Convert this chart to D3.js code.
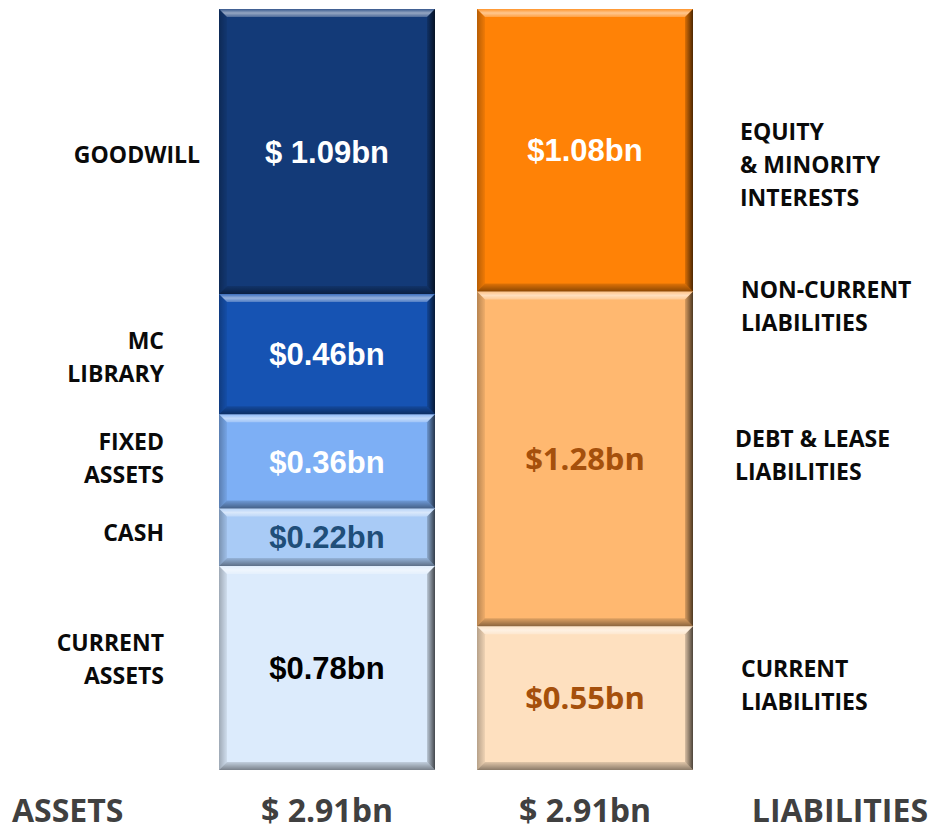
<!DOCTYPE html>
<meta charset="utf-8">
<head>
    <script src="https://d3js.org/d3.v7.min.js"></script>
    <style>
        body { margin: 0; background: #fff; }
        svg { display: block; }
        .cat { font-family: 'Open Sans', sans-serif; font-weight: 700; font-size: 23px; fill: #0a0a0a; }
        .val { font-family: 'Liberation Sans', Arial, sans-serif; font-weight: 700; font-size: 31px; }
        .foot { font-family: 'Open Sans', sans-serif; font-weight: 700; font-size: 32px; fill: #404040; }
    </style>
</head>
<body>
    <div id="chart"></div>
    <script>

    // data, stacked from the bottom up
    var sides = ["ASSETS", "LIABILITIES"]
    var totals = ["$ 2.91bn", "$ 2.91bn"]

    var assetCategories = [["CURRENT", "ASSETS"], ["CASH"], ["FIXED", "ASSETS"], ["MC", "LIBRARY"], ["GOODWILL"]]
    var assetValues = [0.78, 0.22, 0.36, 0.46, 1.09]
    var assetLabels = ["$0.78bn", "$0.22bn", "$0.36bn", "$0.46bn", "$ 1.09bn"]

    var liabCategories = [["CURRENT", "LIABILITIES"], ["DEBT & LEASE", "LIABILITIES"], ["EQUITY", "& MINORITY", "INTERESTS"]]
    var liabValues = [0.55, 1.28, 1.08]
    var liabLabels = ["$0.55bn", "$1.28bn", "$1.08bn"]
    var liabGroupLabel = ["NON-CURRENT", "LIABILITIES"]

    // styles
    var assetFill = ["#dcebfc", "#a9cbf6", "#7dafF5", "#1653b3", "#133a78"]
    var assetText = ["#000000", "#1f4e79", "#ffffff", "#ffffff", "#ffffff"]
    var liabFill = ["#fee0bf", "#ffb870", "#ff8206"]
    var liabText = ["#a5500c", "#a5500c", "#ffffff"]

    var width = 934, height = 831
    var bev = 8

    var svg = d3.select("#chart").append("svg")
        .attr("width", width).attr("height", height)

    var x = d3.scaleBand().domain(sides).range([219, 693]).paddingInner(0.1628).paddingOuter(0)
    var y = d3.scaleLinear().domain([0, 2.91]).range([770, 9])

    // bevel gradients
    var defs = svg.append("defs")
    function grad(id, x2, y2, stops) {
        var g = defs.append("linearGradient").attr("id", id)
            .attr("x1", 0).attr("y1", 0).attr("x2", x2).attr("y2", y2)
        stops.forEach(function(s) {
            g.append("stop").attr("offset", s[0]).attr("stop-color", s[1]).attr("stop-opacity", s[2])
        })
    }
    grad("gTop", 0, 1, [[0, "#fff", 0.15], [0.5, "#fff", 0.55], [1, "#fff", 0.25]])
    grad("gBot", 0, 1, [[0, "#000", 0.12], [1, "#000", 0.45]])
    grad("gRight", 1, 0, [[0, "#000", 0.15], [1, "#000", 0.7]])
    grad("gLeft", 1, 0, [[0, "#000", 0.28], [1, "#000", 0.06]])

    function segments(values) {
        var ends = d3.cumsum(values)
        return values.map(function(v, i) { return { y0: ends[i] - v, y1: ends[i] } })
    }

    function drawBar(side, values, fills) {
        var x0 = x(side), x1 = x(side) + x.bandwidth()
        var segs = segments(values)
        var g = svg.append("g")
        segs.forEach(function(s, i) {
            var top = y(s.y1), bot = y(s.y0)
            g.append("rect").attr("x", x0).attr("y", top)
                .attr("width", x1 - x0).attr("height", bot - top).attr("fill", fills[i])
            var polys = [
                ["gTop", [[x0, top], [x1, top], [x1 - bev, top + bev], [x0 + bev, top + bev]]],
                ["gBot", [[x0 + bev, bot - bev], [x1 - bev, bot - bev], [x1, bot], [x0, bot]]],
                ["gLeft", [[x0, top], [x0 + bev, top + bev], [x0 + bev, bot - bev], [x0, bot]]],
                ["gRight", [[x1 - bev, top + bev], [x1, top], [x1, bot], [x1 - bev, bot - bev]]]
            ]
            polys.forEach(function(p) {
                g.append("polygon").attr("points", p[1].join(" ")).attr("fill", "url(#" + p[0] + ")")
            })
        })
        return segs
    }

    var aSegs = drawBar("ASSETS", assetValues, assetFill)
    var lSegs = drawBar("LIABILITIES", liabValues, liabFill)

    function valueLabels(side, segs, labels, colors, fontFam) {
        var cx = x(side) + x.bandwidth() / 2
        svg.selectAll(null).data(segs).enter().append("text")
            .attr("class", "val")
            .attr("x", cx)
            .attr("y", function(d) { return (y(d.y0) + y(d.y1)) / 2 + 3 })
            .attr("text-anchor", "middle")
            .attr("dominant-baseline", "middle")
            .attr("fill", function(d, i) { return colors[i] })
            .style("font-family", function(d, i) { return fontFam ? fontFam[i] : null })
            .text(function(d, i) { return labels[i] })
    }
    valueLabels("ASSETS", aSegs, assetLabels, assetText)
    valueLabels("LIABILITIES", lSegs, liabLabels, liabText, ["'Open Sans', sans-serif", "'Open Sans', sans-serif", null])

    // multi-line category labels
    function catLabel(lines, px, cy, anchor) {
        var lh = 33
        var t = svg.append("text").attr("class", "cat").attr("text-anchor", anchor)
        lines.forEach(function(line, i) {
            t.append("tspan").attr("x", px)
                .attr("y", cy + (i - (lines.length - 1) / 2) * lh)
                .attr("dominant-baseline", "middle")
                .text(line)
        })
    }
    var assetLabelX = [164, 164, 164, 164, 200]
    var assetLabelDy = [-7, -2, -1, 5, 5]
    aSegs.forEach(function(s, i) {
        catLabel(assetCategories[i], assetLabelX[i], (y(s.y0) + y(s.y1)) / 2 + assetLabelDy[i], "end")
    })
    var liabLabelX = [741, 735, 740]
    var liabLabelDy = [-11, -1, 17]
    lSegs.forEach(function(s, i) {
        catLabel(liabCategories[i], liabLabelX[i], (y(s.y0) + y(s.y1)) / 2 + liabLabelDy[i], "start")
    })
    catLabel(liabGroupLabel, 741, y(lSegs[1].y1) + 17, "start")

    // footer
    var footY = 822
    svg.append("text").attr("class", "foot").attr("x", 12).attr("y", footY).text(sides[0])
    svg.append("text").attr("class", "foot").attr("x", 928).attr("y", footY).attr("text-anchor", "end").text(sides[1])
    svg.selectAll(null).data(sides).enter().append("text")
        .attr("class", "foot")
        .attr("x", function(d) { return x(d) + x.bandwidth() / 2 })
        .attr("y", footY)
        .attr("text-anchor", "middle")
        .text(function(d, i) { return totals[i] })
    </script>
</body>
